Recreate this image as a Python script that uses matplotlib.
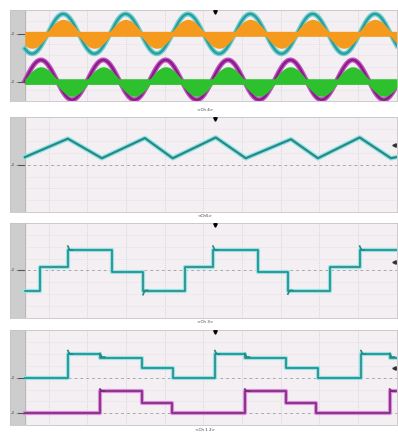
import numpy as np
import matplotlib.pyplot as plt

# scope screen: 125 ms across (10 div), 8 div high, traces start after the grey strip
t_start = 4.8
t_end = 125.0

# panel 1: two grid voltages (sine) and two PWM currents (bands), in div
period = 20.15
va_peak_t = 17.2
vb_peak_t = 10.0
va_zero, va_amp = 1.9, 1.75
vb_zero, vb_amp = -2.15, 1.75
ia_zero, ia_amp, ia_band = 1.9, 1.05, 0.22
ib_zero, ib_amp, ib_band = -2.3, 1.05, 0.25

# panel 2: triangle carrier (vertex times in ms, level in div)
tri_t = [4.8, 18.7, 29.7, 43.6, 52.6, 66.5, 76.2, 90.8, 99.5, 113.0, 123.1, 125.0]
tri_v = [0.64, 2.2, 0.55, 2.25, 0.55, 2.3, 0.55, 2.15, 0.55, 2.3, 0.55, 0.65]

# panel 3: three-level output
ml_t = [4.8, 9.7, 18.7, 32.9, 43.0, 56.5, 65.6, 80.1, 89.8, 103.4, 113.0, 125.0]
ml_v = [-1.7, 0.25, 1.73, -0.1, -1.7, 0.25, 1.73, -0.1, -1.7, 0.25, 1.73, 1.73]
ml_spike_t = [18.7, 43.0, 65.6, 89.8, 113.0]
ml_spike_v = [2.05, -2.05, 2.05, -2.0, 2.05]

# panel 4: two gate / switch signals
sa_t = [4.8, 18.7, 29.1, 42.6, 52.6, 66.2, 75.9, 89.1, 99.5, 113.4, 122.7, 125.0]
sa_v = [0, 2.0, 1.7, 0.8, 0, 2.0, 1.7, 0.8, 0, 2.0, 1.7, 1.7]
sb_t = [4.8, 29.1, 42.6, 52.3, 75.9, 89.1, 98.8, 122.7, 125.0]
sb_v = [-3.0, -1.13, -2.1, -3.0, -1.13, -2.1, -3.0, -1.13, -1.13]
sa_spike_t = [18.7, 29.1, 66.2, 75.9, 113.4, 122.7]
sa_spike_v = [2.3, 2.05, 2.3, 2.05, 2.3, 2.05]
sb_spike_t = [29.1, 75.9, 122.7]
sb_spike_v = [-0.95, -0.95, -0.95]

labels = ["<Ch 4>", "<Ch5>", "<Ch 3>", "<Ch 1 2>"]
right_marks = [None, 1.65, 0.72, 0.8]
zero_marks = [[va_zero, ib_zero], [0.0], [0.0], [0.0, -3.0]]

BG = "#f3eff2"
STRIP = "#cdcdcd"
TEAL = "#2b8686"
GLOW = "#8fe6e6"

fig = plt.figure(figsize=(3.98, 4.33), dpi=100)
fig.patch.set_facecolor("white")
rects = [
    [0.025, 0.767, 0.972, 0.210],
    [0.025, 0.510, 0.972, 0.219],
    [0.025, 0.266, 0.972, 0.219],
    [0.025, 0.018, 0.972, 0.219],
]
label_y = [0.746, 0.501, 0.256, 0.006]
axes = []
for i, r in enumerate(rects):
    ax = fig.add_axes(r)
    ax.set_facecolor(BG)
    ax.set_xlim(0, t_end)
    ax.set_ylim(-4, 4)
    ax.set_xticks([])
    ax.set_yticks([])
    for s in ax.spines.values():
        s.set_color("#c4c4c4")
        s.set_linewidth(0.6)
    for gx in np.arange(12.5, t_end, 12.5):
        ax.axvline(gx, color="#d8d8d8", lw=0.7, ls=(0, (1, 1)), zorder=0)
    for gy in np.arange(-3, 4, 1):
        ax.axhline(gy, color="#e6e2e4", lw=0.5, ls=(0, (2, 1)), zorder=0)
    ax.axvspan(0, t_start, color=STRIP, zorder=1)
    ax.axvline(t_start, color="#b5b5b5", lw=0.6, zorder=1)
    for z in zero_marks[i]:
        ax.axhline(z, color="#9a9a9a", lw=0.6, ls=(0, (3, 4)), zorder=1)
        ax.text(0.6, z, "0", fontsize=2.5, color="#555555", va="center", ha="left", zorder=3)
        ax.plot([2.6, 4.6], [z, z], color="#555555", lw=0.8, zorder=3)
    ax.plot([66.4], [3.85], marker="v", color="black", ms=2.5, clip_on=False, zorder=5)
    if right_marks[i] is not None:
        ax.plot([124.0], [right_marks[i]], marker="<", color="#333333", ms=2.5, zorder=5)
    fig.text(0.515, label_y[i], labels[i], fontsize=3, color="#333333", ha="center", va="center")
    axes.append(ax)

ax1, ax2, ax3, ax4 = axes

# panel 1
t = np.linspace(t_start, t_end, 3000)
va = va_zero + va_amp * np.cos(2 * np.pi * (t - va_peak_t) / period)
vb = vb_zero + vb_amp * np.cos(2 * np.pi * (t - vb_peak_t) / period)
ia = ia_amp * np.cos(2 * np.pi * (t - va_peak_t) / period)
ib = ib_amp * np.cos(2 * np.pi * (t - vb_peak_t) / period)
ax1.plot(t, va, color="#6cd0d0", lw=3.6, zorder=2)
ax1.plot(t, va, color="#2a9c9c", lw=1.6, zorder=2)
ax1.fill_between(t, ia_zero + np.minimum(ia, 0) - ia_band, ia_zero + np.maximum(ia, 0) + ia_band,
                 color="#f59a1c", lw=0, zorder=3)
ax1.plot(t, vb, color="#c050c0", lw=3.6, zorder=2)
ax1.plot(t, vb, color="#8a1a8a", lw=1.6, zorder=2)
ax1.fill_between(t, ib_zero + np.minimum(ib, 0) - ib_band, ib_zero + np.maximum(ib, 0) + ib_band,
                 color="#2ec12e", lw=0, zorder=3)

# panel 2
ax2.plot(tri_t, tri_v, color=GLOW, lw=3.4, zorder=2)
ax2.plot(tri_t, tri_v, color=TEAL, lw=1.6, zorder=3)

# panel 3
ax3.step(ml_t, ml_v, where="post", color=GLOW, lw=3.0, zorder=2)
ax3.step(ml_t, ml_v, where="post", color=TEAL, lw=1.2, zorder=3)
for st, sv in zip(ml_spike_t, ml_spike_v):
    base = np.interp(st + 0.1, ml_t, ml_v)
    ax3.plot([st, st + 0.6, st + 1.5], [sv, base, base], color=TEAL, lw=1.2, zorder=3)

# panel 4
ax4.step(sa_t, sa_v, where="post", color=GLOW, lw=3.0, zorder=2)
ax4.step(sa_t, sa_v, where="post", color=TEAL, lw=1.2, zorder=3)
ax4.step(sb_t, sb_v, where="post", color="#e08ae0", lw=3.0, zorder=2)
ax4.step(sb_t, sb_v, where="post", color="#7a2a7a", lw=1.2, zorder=3)
for st, sv in zip(sa_spike_t, sa_spike_v):
    ax4.plot([st, st + 0.6, st + 1.5], [sv, sv - 0.3, sv - 0.3], color=TEAL, lw=1.2, zorder=3)
for st, sv in zip(sb_spike_t, sb_spike_v):
    ax4.plot([st, st + 0.6, st + 1.5], [sv, sv - 0.18, sv - 0.18], color="#7a2a7a", lw=1.2, zorder=3)

fig.savefig("out.png", dpi=100, facecolor="white")
